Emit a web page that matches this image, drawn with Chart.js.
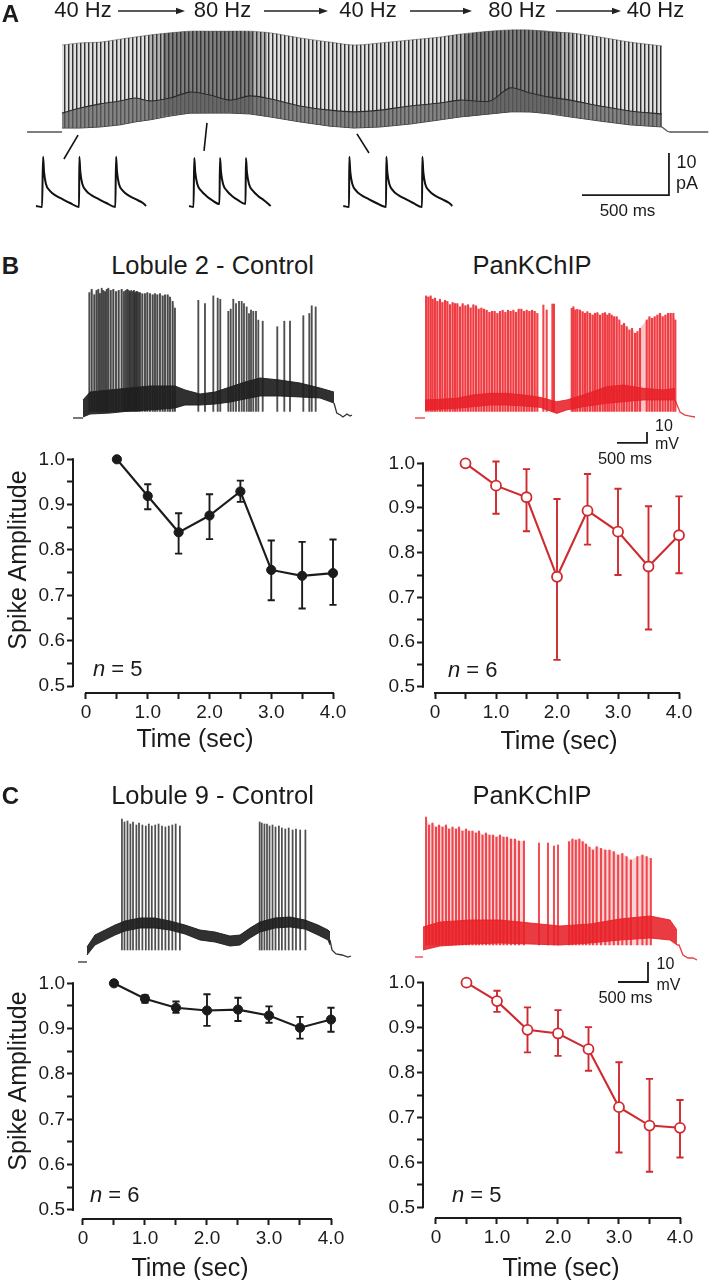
<!DOCTYPE html>
<html>
<head>
<meta charset="utf-8">
<title>Spike amplitude during frequency-modulated input</title>
<script src="https://cdn.jsdelivr.net/npm/chart.js@4.4.1/dist/chart.umd.min.js"></script>
<style>
html,body{margin:0;padding:0;background:#fff;}
body{position:relative;width:709px;height:1280px;overflow:hidden;font-family:"Liberation Sans",Arial,Helvetica,sans-serif;color:#1b1b1b;}
canvas{position:absolute;}
.t{position:absolute;white-space:nowrap;line-height:1;transform:translate(-50%,-50%);}
.l{position:absolute;white-space:nowrap;line-height:1;transform:translate(0,-50%);}
.b{font-weight:bold;}
.r{transform:translate(-50%,-50%) rotate(-90deg);}
</style>
</head>
<body>
<canvas id="traceA" width="709" height="175" style="left:0;top:25px"></canvas>
<canvas id="insetA" width="709" height="100" style="left:0;top:118px"></canvas>
<canvas id="traceB2c" width="330" height="145" style="left:40px;top:280px"></canvas>
<canvas id="traceB2k" width="319" height="170" style="left:390px;top:280px"></canvas>
<canvas id="plotB2c" width="355" height="290" style="left:0;top:440px"></canvas>
<canvas id="plotB2k" width="354" height="290" style="left:355px;top:440px"></canvas>
<canvas id="traceC9c" width="330" height="165" style="left:40px;top:805px"></canvas>
<canvas id="traceC9k" width="319" height="190" style="left:390px;top:805px"></canvas>
<canvas id="plotC9c" width="355" height="300" style="left:0;top:965px"></canvas>
<canvas id="plotC9k" width="354" height="300" style="left:355px;top:965px"></canvas>

<svg width="709" height="25" style="position:absolute;left:0;top:0">
  <g stroke="#222" stroke-width="1.4">
    <line x1="118" y1="11" x2="178" y2="11"/>
    <line x1="264" y1="11" x2="321" y2="11"/>
    <line x1="410" y1="11" x2="465" y2="11"/>
    <line x1="556" y1="11" x2="614" y2="11"/>
  </g>
  <g fill="#222">
    <polygon points="185,11 176,7.8 176,14.2"/>
    <polygon points="328,11 319,7.8 319,14.2"/>
    <polygon points="472,11 463,7.8 463,14.2"/>
    <polygon points="621,11 612,7.8 612,14.2"/>
  </g>
</svg>

<!-- Panel A text -->
<div class="t b" style="left:10.5px;top:14px;font-size:24px">A</div>
<div class="t" style="left:83px;top:9.5px;font-size:22px">40 Hz</div>
<div class="t" style="left:222.5px;top:9.5px;font-size:22px">80 Hz</div>
<div class="t" style="left:368px;top:9.5px;font-size:22px">40 Hz</div>
<div class="t" style="left:517px;top:9.5px;font-size:22px">80 Hz</div>
<div class="t" style="left:655.5px;top:9.5px;font-size:22px">40 Hz</div>
<div class="t" style="left:686.5px;top:161.5px;font-size:18px">10</div>
<div class="t" style="left:687px;top:183px;font-size:18px">pA</div>
<div class="t" style="left:627.5px;top:209.5px;font-size:17px">500 ms</div>

<!-- Panel B text -->
<div class="t b" style="left:10.5px;top:266px;font-size:24px">B</div>
<div class="t" style="left:212.5px;top:266px;font-size:25.5px">Lobule 2 - Control</div>
<div class="t" style="left:532px;top:266px;font-size:25.5px">PanKChIP</div>
<div class="t" style="left:664px;top:426px;font-size:16px">10</div>
<div class="t" style="left:667px;top:444px;font-size:16px">mV</div>
<div class="t" style="left:625px;top:458px;font-size:16.5px">500 ms</div>
<div class="t r" style="left:17px;top:560px;font-size:25px">Spike Amplitude</div>
<div class="t" style="left:195px;top:738px;font-size:25px">Time (sec)</div>
<div class="t" style="left:559px;top:740px;font-size:25px">Time (sec)</div>
<div class="l" style="left:93px;top:669px;font-size:22px"><i>n</i> = 5</div>
<div class="l" style="left:448px;top:670px;font-size:22px"><i>n</i> = 6</div>

<!-- Panel C text -->
<div class="t b" style="left:10.5px;top:796px;font-size:24px">C</div>
<div class="t" style="left:212.5px;top:796px;font-size:25.5px">Lobule 9 - Control</div>
<div class="t" style="left:532px;top:796px;font-size:25.5px">PanKChIP</div>
<div class="t" style="left:665.5px;top:964px;font-size:16px">10</div>
<div class="t" style="left:668.5px;top:985px;font-size:16px">mV</div>
<div class="t" style="left:625.5px;top:997px;font-size:16.5px">500 ms</div>
<div class="t r" style="left:17px;top:1081px;font-size:25px">Spike Amplitude</div>
<div class="t" style="left:190px;top:1267px;font-size:25px">Time (sec)</div>
<div class="t" style="left:561px;top:1267px;font-size:25px">Time (sec)</div>
<div class="l" style="left:90px;top:1195px;font-size:22px"><i>n</i> = 6</div>
<div class="l" style="left:452px;top:1195px;font-size:22px"><i>n</i> = 5</div>

<script>
// ================= DATA =================
// Summary plots: normalised spike amplitude vs time (s)
const timeSec = [0.5, 1.0, 1.5, 2.0, 2.5, 3.0, 3.5, 4.0];
const xTickVals = [0, 0.5, 1.0, 1.5, 2.0, 2.5, 3.0, 3.5, 4.0];
const yTickVals = [0.5, 0.55, 0.6, 0.65, 0.7, 0.75, 0.8, 0.85, 0.9, 0.95, 1.0];

const lob2Ctl     = [1.0, 0.919, 0.839, 0.876, 0.929, 0.756, 0.743, 0.749];
const lob2CtlHi   = [null, 0.945, 0.881, 0.923, 0.953, 0.821, 0.818, 0.823];
const lob2CtlLo   = [null, 0.890, 0.792, 0.824, 0.906, 0.689, 0.671, 0.679];
const lob2KChIP   = [1.0, 0.950, 0.924, 0.746, 0.894, 0.847, 0.769, 0.839];
const lob2KChIPHi = [null, 1.004, 0.987, 0.920, 0.976, 0.943, 0.904, 0.926];
const lob2KChIPLo = [null, 0.887, 0.848, 0.560, 0.818, 0.750, 0.628, 0.754];
const lob9Ctl     = [1.0, 0.966, 0.946, 0.940, 0.942, 0.929, 0.902, 0.920];
const lob9CtlHi   = [null, 0.974, 0.960, 0.976, 0.968, 0.949, 0.926, 0.946];
const lob9CtlLo   = [null, 0.957, 0.935, 0.906, 0.917, 0.913, 0.878, 0.893];
const lob9KChIP   = [1.0, 0.959, 0.895, 0.887, 0.852, 0.723, 0.682, 0.677];
const lob9KChIPHi = [null, 0.982, 0.945, 0.939, 0.901, 0.823, 0.786, 0.739];
const lob9KChIPLo = [null, 0.935, 0.845, 0.837, 0.804, 0.622, 0.579, 0.611];

// Panel A: injected current train (ms, pA) - envelopes
const aEnvT      = [0,104,219,334,420,506,621,736,851,966,1081,1196,1369,1541,1679,1829,2001,2174,2289,2461,2576,2691,2806,2921,3094,3266,3450];
const aPeakPA    = [20.7,21.2,21.4,22.1,22.6,23.1,23.6,24.0,24.0,24.0,24.0,23.6,22.4,21.4,20.7,21.2,21.9,22.6,23.3,24.0,24.3,24.3,23.8,23.6,22.6,21.4,20.5];
const aTroughPA  = [0.95,0.95,1.2,1.7,2.4,2.9,3.8,4.5,4.5,4.5,4.3,3.6,2.4,1.4,0.95,1.2,1.9,2.9,3.6,4.3,4.8,4.8,4.3,3.6,2.6,1.7,1.2];
const aMidPA     = [4.5,5.7,6.7,7.4,8.1,7.4,8.1,9.5,8.8,7.6,8.6,7.9,6.2,5.2,4.8,5.2,6.2,6.9,7.6,7.4,10.5,9.3,8.3,7.6,6.2,5.0,4.3];
// 80 Hz epochs (dense, dark part of the train)
const a80aT      = [500, 581, 700, 850, 1000, 1098, 1180];
const a80aTop    = [23.1, 23.4, 23.9, 24.0, 24.0, 23.9, 23.7];
const a80aBot    = [2.9, 3.9, 4.4, 4.5, 4.5, 4.3, 3.7];
const a80bT      = [2230, 2311, 2450, 2600, 2750, 2869, 2950];
const a80bTop    = [23.0, 23.3, 24.0, 24.3, 24.2, 23.8, 23.4];
const a80bBot    = [3.2, 3.6, 4.2, 4.8, 4.6, 4.3, 3.5];
const aPreT = [-201, 0],               aPrePA = [0, 0];
const aPostT = [3450, 3479, 3496, 3716], aPostPA = [1.2, 0.24, 0, 0];

// Panel A insets: expanded single events (ms, pA)
const inset1T  = [0,4.2,4.9,5.6,6.9,9.7,13.2,18.1,23.6,29.9,30.1,30.8,32.2,34.9,38.4,43.3,48.8,55.1,55.6,56.3,57.6,60.4,63.9,68.8,74.3,76.4];
const inset1PA = [0.24,0,11.8,8.2,5.4,3.8,2.8,1.9,0.94,0,11.8,8.2,5.4,3.8,2.8,1.9,0.94,0,11.8,8.2,5.4,3.8,2.8,1.9,0.94,0.24];
const inset2T  = [106.3,109.4,109.9,110.6,112.0,114.8,118.3,122.2,127.4,127.8,128.5,129.9,132.6,136.1,140.3,145.5,145.8,146.5,147.9,150.7,154.2,158.3,163.0];
const inset2PA = [0.24,0,11.5,8.2,5.4,3.8,2.6,1.6,0.7,11.5,8.2,5.4,3.8,2.6,1.6,0.7,11.5,8.2,5.4,3.8,2.6,1.6,0.24];
const inset3T  = [213.4,217.4,217.6,218.3,219.7,222.4,225.9,230.8,236.3,243.1,243.3,244.0,245.4,248.1,251.6,256.5,262.0,268.1,268.3,269.0,270.3,273.1,276.6,281.5,287.0,289.1];
const inset3PA = [0.24,0,11.8,8.2,5.4,3.8,2.8,1.9,0.94,0,11.8,8.2,5.4,3.8,2.8,1.9,0.94,0,11.8,8.2,5.4,3.8,2.8,1.9,0.94,0.24];

// Panel B, Lobule 2 control trace (ms, mV above rest)
const b2cBandT  = [0,117,450,783,1117,1533,1700,1950,2200,2450,2700,2950,3283,3617,3950,4183];
const b2cBandHi = [16.4,23.6,25.5,27.3,29.1,29.1,25.5,21.8,23.6,28.2,32.7,36.4,34.5,31.8,27.3,23.6];
const b2cBandLo = [0.9,3.6,4.5,6.4,7.3,9.1,11.8,11.8,12.7,14.5,17.3,20,20,19.1,18.2,13.6];
const b2cSpikeT = [105,145,188,225,255,283,312,338,367,395,422,462,505,550,595,645,683,713,738,762,783,805,828,850,867,888,905,928,950,988,1033,1072,1117,1162,1200,1238,1283,1328,1367,1412,1450,1495,1533,
                   1922,2033,2172,2245,2288,2422,2462,2505,2550,2600,2645,2683,2728,2767,2800,2838,2883,2922,2995,3238,3355,3450,3672,3772,3812,3878];
const b2cSpikeV = [114,117,112,116,117,113,118,116,115,117,118,116,117,115,116,117,115,116,117,116,115,116,115,116,114,115,115,114,114,113,113,114,113,112,113,112,113,111,112,112,110,106,100,
                   107,104,111,109,108,97,99,108,104,106,106,104,101,95,98,97,97,89,88,83,88,88,93,95,102,101];
const b2cDense = [[0, 43]];
const b2cPreT = [-167, 0], b2cPreV = [0, 0];
const b2cPostT = [4183,4230,4290,4333,4400,4450,4483], b2cPostV = [13.6,4.5,2.7,0.9,3.6,1.8,2.7];

// Panel B, Lobule 2 PanKChIP trace
const b2kBandT  = [0,250,528,805,1083,1362,1638,1917,2195,2362,2638,3028,3305,3638,3972,4167];
const b2kBandHi = [16.4,17,18,21,22.4,22.4,21,18.8,14.8,16.4,21,28.5,30,27,25.5,27];
const b2kBandLo = [7.3,8,8.8,10.3,11.8,11.8,10.9,9.7,4.2,7.3,10.3,13.3,14.8,16.4,16.4,16.4];
const b2kSpikeT = [17,56,95,128,167,206,250,289,334,373,417,461,500,539,584,628,673,717,761,806,850,895,939,984,1028,1073,1117,1161,1206,1250,1295,1339,1384,1428,1473,1517,1562,1606,1650,1695,1739,1784,1828,1873,
                   1973,2028,2123,2150,
                   2445,2473,2506,2539,2584,2628,2667,2706,2751,2795,2834,2873,2917,2962,3001,3040,3073,3112,3151,3195,3240,
                   3278,3317,3362,3406,3451,3501,3539,3584,3695,3740,3784,3828,3873,3917,3962,4006,4051,4095,4140,4173];
const b2kSpikeV = [111,110,111,108,109,106,108,105,107,106,103,105,104,104,101,104,102,103,100,103,102,99,100,99,98,96,97,97,95,97,98,96,98,97,98,96,99,99,97,98,97,98,97,95,
                   102.7,98.2,103.6,103.6,
                   99.7,101.2,98.2,98.8,98.2,96.7,95.2,96.7,95.2,93.6,95.2,95.8,93.6,95.2,95.8,93.6,95.2,93.6,92.1,92.1,89.1,
                   84.5,86.1,83.0,80.0,81.5,77.0,78.5,81.5,89.1,92.1,90.6,92.1,93.6,95.2,92.1,93.6,95.2,95.2,95.2,89.1];
const b2kDense = [[0, 44], [48, 69], [69, 89]];
const b2kPreT = [-167, 0], b2kPreV = [0, 0];
const b2kPostT = [4167,4250,4333,4417,4500], b2kPostV = [16.4,5.5,2.7,1.8,0.9];

// Panel C, Lobule 9 control trace
const c9cBandT  = [0,133,300,467,633,883,1133,1383,1633,1883,2133,2383,2550,2717,2883,3133,3383,3633,3850,4017,4050];
const c9cBandHi = [7.5,13.5,16,18.5,20.5,22,22,20.5,18.5,16,15,13,13.5,17,20,22,22.5,21,18.5,16,15];
const c9cBandLo = [3.5,8.5,11,13.5,15.5,17,17,16,14,11,10,8,8.5,12,15,17,17.5,16.5,13.5,11,8.5];
const c9cSpikeT = [582,625,675,723,767,823,867,923,980,1030,1080,1137,1193,1250,1307,1363,1422,1478,1548,
                   2878,2913,2957,3000,3042,3092,3142,3198,3248,3305,3362,3427,3483,3553,3640];
const c9cSpikeV = [71.5,70,70.5,69,70,68.5,69.5,68.5,68,69,68,68.5,69,68,67.5,68,68.5,69,68,
                   70,69.5,69,69,68,68.5,67.5,68,67,66.5,67,66,66.5,66,66];
const c9cDense = [];
const c9cPreT = [-150, 0], c9cPreV = [0, 0];
const c9cPostT = [4050,4083,4150,4250,4350,4400], c9cPostV = [11,6,4,3.5,2.5,3];

// Panel C, Lobule 9 PanKChIP trace
const c9kBandT  = [0,283,783,1283,1783,2283,2783,3283,3783,4117,4233];
const c9kBandHi = [15,17.5,18.5,18.5,17,15.5,16.5,19,20.5,18.5,13.5];
const c9kBandLo = [3.5,5.5,6.5,7,6.5,6,7,8.5,9.5,8.5,6];
const c9kSpikeT = [50,100,158,217,267,325,383,433,492,550,600,658,717,767,825,883,933,992,1050,1108,1167,1225,1283,1342,1400,1467,1533,1600,1683,
                   1933,2083,2183,2250,
                   2433,2490,2547,2605,2662,2717,2775,2833,
                   2895,2967,3038,3108,3180,3252,3322,3393,3465,3572,3657,3728,3798];
const c9kSpikeV = [70,66,67,65,66,65,66,64,65,64,65,63,64,63,63,62,63,61,62,61,61,60,61,60,60,59,59,58,58,
                   57,57,55.5,56,
                   57.7,59,58.5,59,57.7,56.5,55,53.5,
                   55.2,54.3,53.5,53.5,52.7,51,51.8,50.2,48.5,50.2,51,50.2,49.3];
const c9kDense = [[0, 29], [33, 54]];
const c9kPreT = [-133, 0], c9kPreV = [0, 0];
const c9kPostT = [4233,4267,4333,4417,4500,4567], c9kPostV = [6,6,1,-0.5,-0.5,-1.5];

// ================= LAYOUT / STYLE =================
const FONT = "'Liberation Sans', Arial, Helvetica, sans-serif";
Chart.defaults.font.family = FONT;
Chart.defaults.animation = false;

const INK = '#1b1b1b';
const RED = '#cf2a2f';
const TRACE_BLACK = 'rgba(30,30,30,0.92)';
const TRACE_RED = 'rgba(232,32,40,0.88)';

const geoPlot = {
  b2c: { padTop: 19.3, padRight: 22, yAxisW: 73, xAxisH: 37, xMin: -0.2105, yMin: 0.4846 },
  b2k: { padTop: 23.3, padRight: 30, yAxisW: 68, xAxisH: 37, xMin: -0.197,  yMin: 0.4859 },
  c9c: { padTop: 18.3, padRight: 24, yAxisW: 73, xAxisH: 46, xMin: -0.161,  yMin: 0.4801 },
  c9k: { padTop: 17.7, padRight: 29, yAxisW: 68, xAxisH: 47, xMin: -0.213,  yMin: 0.4762 }
};
const geoTrace = {
  a:   { xMin: -356.5, xMax: 3720.25, yMin: -16.18, yMax: 25.47 },
  ins: { xMin: -25,    xMax: 467.4,   yMin: -2.59,  yMax: 20.94 },
  b2c: { xMin: -716.7, xMax: 4783.3,  yMin: -6.36,  yMax: 125.45 },
  b2k: { xMin: -583.3, xMax: 4733.3,  yMin: -29.09, yMax: 125.45 },
  c9c: { xMin: -783.3, xMax: 4716.7,  yMin: -4,     yMax: 78.5 },
  c9k: { xMin: -550,   xMax: 4766.7,  yMin: -19,    yMax: 76 }
};
const scaleBars = {
  a:   { t0: 2990, v0: -15,   dt: 500, dv: 10 },
  b2k: { t0: 3200, v0: -22.7, dt: 500, dv: 10 },
  c9k: { t0: 3250, v0: -12.5, dt: 500, dv: 10 }
};
// connector strokes from the train to the insets (inset units)
const connectors = [
  [[29.2, 16.9], [19.4, 11.3]],
  [[118.75, 19.8], [116.7, 13.2]],
  [[222.9, 17.2], [231.25, 12.7]]
];

// ================= HELPERS =================
function pts(xs, ys) { return xs.map((x, i) => ({ x: x, y: ys[i] })); }

function barPts(xs, ys, base) { return xs.map((x, i) => ({ x: x, y: [base, ys[i]] })); }

function scaleBarData(sb) {
  return [{ x: sb.t0, y: sb.v0 }, { x: sb.t0 + sb.dt, y: sb.v0 }, { x: sb.t0 + sb.dt, y: sb.v0 + sb.dv }];
}

function stripePattern() {
  const c = document.createElement('canvas');
  c.width = 4; c.height = 4;
  const g = c.getContext('2d');
  g.fillStyle = 'rgba(150,150,150,0.30)'; g.fillRect(0, 0, 4, 4);
  g.fillStyle = 'rgba(40,40,40,0.95)';    g.fillRect(0, 0, 1, 4);
  g.fillStyle = 'rgba(60,60,60,0.45)';    g.fillRect(1, 0, 1, 4);
  return g.createPattern(c, 'repeat');
}

function baseTraceOptions(geo) {
  return {
    responsive: false, animation: false, events: [],
    layout: { padding: 0 },
    plugins: { legend: { display: false }, tooltip: { enabled: false } },
    elements: { point: { radius: 0 }, line: { tension: 0 } },
    scales: {
      x: { type: 'linear', display: false, offset: false, min: geo.xMin, max: geo.xMax },
      y: { type: 'linear', display: false, offset: false, min: geo.yMin, max: geo.yMax }
    }
  };
}

function traceChart(id, geo, tr, st, sb) {
  const ds = [
    { type: 'bar', data: barPts(tr.spikeT, tr.spikeV, 6), backgroundColor: st.spike, borderWidth: 0,
      barThickness: st.spikeW, grouped: false, order: 6 },
    { data: pts(tr.bandT, tr.bandLo), borderColor: st.band, borderWidth: 1, fill: false, order: 5 },
    { data: pts(tr.bandT, tr.bandHi), borderColor: st.band, borderWidth: 1, backgroundColor: st.band, fill: '-1', order: 4 },
    { data: pts(tr.preT, tr.preV), borderColor: st.band, borderWidth: 1.3, fill: false, order: 1 },
    { data: pts(tr.postT, tr.postV), borderColor: st.band, borderWidth: 1.3, fill: false, order: 1 }
  ];
  // shading between closely spaced spikes, built from the spike list itself
  tr.dense.forEach(r => {
    ds.push({ data: pts(tr.spikeT.slice(r[0], r[1]), tr.spikeV.slice(r[0], r[1])), borderWidth: 0,
              backgroundColor: st.dense, fill: { value: 6 }, order: 8 });
  });
  if (sb) ds.push({ data: scaleBarData(sb), borderColor: INK, borderWidth: 1.8, fill: false, order: 0 });
  return new Chart(document.getElementById(id), { type: 'line', data: { datasets: ds }, options: baseTraceOptions(geo) });
}

const errorBars = {
  id: 'errorBars',
  beforeDatasetsDraw(chart) {
    const ctx = chart.ctx, ys = chart.scales.y;
    chart.data.datasets.forEach((ds, i) => {
      if (!ds.errHi) return;
      const meta = chart.getDatasetMeta(i);
      ctx.save();
      ctx.strokeStyle = ds.borderColor;
      ctx.lineWidth = 1.9;
      const cap = 3.6;
      meta.data.forEach((pt, j) => {
        const hi = ds.errHi[j], lo = ds.errLo[j];
        if (hi == null || lo == null) return;
        const x = pt.x, yh = ys.getPixelForValue(hi), yl = ys.getPixelForValue(lo);
        ctx.beginPath();
        ctx.moveTo(x, yh); ctx.lineTo(x, yl);
        ctx.moveTo(x - cap, yh); ctx.lineTo(x + cap, yh);
        ctx.moveTo(x - cap, yl); ctx.lineTo(x + cap, yl);
        ctx.stroke();
      });
      ctx.restore();
    });
  }
};

const axisLines = {
  id: 'axisLines',
  beforeDatasetsDraw(chart) {
    const ctx = chart.ctx, a = chart.chartArea, x = chart.scales.x, y = chart.scales.y;
    ctx.save();
    ctx.strokeStyle = INK; ctx.lineWidth = 2; ctx.lineCap = 'square';
    ctx.beginPath();
    ctx.moveTo(a.left, y.getPixelForValue(yTickVals[0]));
    ctx.lineTo(a.left, y.getPixelForValue(yTickVals[yTickVals.length - 1]));
    ctx.moveTo(x.getPixelForValue(xTickVals[0]), a.bottom);
    ctx.lineTo(x.getPixelForValue(xTickVals[xTickVals.length - 1]), a.bottom);
    ctx.stroke();
    ctx.restore();
  }
};

function plotChart(id, geo, ys, hi, lo, color, open) {
  const tickFont = { size: 19, family: FONT };
  return new Chart(document.getElementById(id), {
    type: 'line',
    data: { datasets: [{
      data: pts(timeSec, ys), errHi: hi, errLo: lo,
      borderColor: color, borderWidth: 2.1, tension: 0, clip: false,
      pointRadius: open ? 5 : 4.6,
      pointBackgroundColor: open ? '#ffffff' : color,
      pointBorderColor: color, pointBorderWidth: open ? 1.8 : 1
    }] },
    options: {
      responsive: false, animation: false, events: [],
      layout: { padding: { top: geo.padTop, right: geo.padRight, left: 0, bottom: 0 } },
      plugins: { legend: { display: false }, tooltip: { enabled: false } },
      scales: {
        x: {
          type: 'linear', min: geo.xMin, max: 4.0, offset: false,
          afterBuildTicks: s => { s.ticks = xTickVals.map(v => ({ value: v })); },
          afterFit: s => { s.height = geo.xAxisH; },
          border: { display: false },
          grid: { drawOnChartArea: false, drawTicks: true, tickLength: 6, tickWidth: 2, tickColor: INK, color: INK },
          ticks: { autoSkip: false, maxRotation: 0, padding: 2, color: INK, font: tickFont,
            callback: v => (v === 0 ? '0' : (Math.abs(v - Math.round(v)) < 1e-9 ? v.toFixed(1) : '')) }
        },
        y: {
          type: 'linear', min: geo.yMin, max: 1.0,
          afterBuildTicks: s => { s.ticks = yTickVals.map(v => ({ value: v })); },
          afterFit: s => { s.width = geo.yAxisW; },
          border: { display: false },
          grid: { drawOnChartArea: false, drawTicks: true, tickLength: 6, tickWidth: 2, tickColor: INK, color: INK },
          ticks: { autoSkip: false, padding: 2, color: INK, font: tickFont,
            callback: v => (Math.abs(v * 10 - Math.round(v * 10)) < 1e-6 ? v.toFixed(1) : '') }
        }
      }
    },
    plugins: [errorBars, axisLines]
  });
}

// ================= PANEL A =================
(function () {
  const pat = stripePattern();
  const inner = a => a.slice(1, a.length - 1);
  const ds = [
    { data: pts(aEnvT, aTroughPA), borderColor: '#3a3a3a', borderWidth: 1, fill: false, order: 9 },
    { data: pts(aEnvT, aPeakPA), borderColor: 'rgba(60,60,60,0.6)', borderWidth: 0.8, backgroundColor: pat, fill: 0, order: 8, tension: 0.3 },
    { data: pts(aEnvT, aMidPA), borderColor: '#2a2a2a', borderWidth: 1.1, backgroundColor: 'rgba(95,95,95,0.72)', fill: 0, order: 3, tension: 0.3 },
    // 80 Hz epoch 1: soft outer + darker core
    { data: pts(a80aT, a80aBot), borderWidth: 0, fill: false, order: 7 },
    { data: pts(a80aT, a80aTop), borderWidth: 0, backgroundColor: 'rgba(60,60,60,0.28)', fill: '-1', order: 7, tension: 0.3 },
    { data: pts(inner(a80aT), inner(a80aBot)), borderWidth: 0, fill: false, order: 6 },
    { data: pts(inner(a80aT), inner(a80aTop)), borderWidth: 0, backgroundColor: 'rgba(55,55,55,0.42)', fill: '-1', order: 6, tension: 0.3 },
    // 80 Hz epoch 2
    { data: pts(a80bT, a80bBot), borderWidth: 0, fill: false, order: 7 },
    { data: pts(a80bT, a80bTop), borderWidth: 0, backgroundColor: 'rgba(60,60,60,0.28)', fill: '-1', order: 7, tension: 0.3 },
    { data: pts(inner(a80bT), inner(a80bBot)), borderWidth: 0, fill: false, order: 6 },
    { data: pts(inner(a80bT), inner(a80bTop)), borderWidth: 0, backgroundColor: 'rgba(55,55,55,0.42)', fill: '-1', order: 6, tension: 0.3 },
    { data: pts(aPreT, aPrePA), borderColor: '#555', borderWidth: 1.3, fill: false, order: 1 },
    { data: pts(aPostT, aPostPA), borderColor: '#555', borderWidth: 1.3, fill: false, order: 1 },
    { data: scaleBarData(scaleBars.a), borderColor: INK, borderWidth: 1.8, fill: false, order: 0 }
  ];
  new Chart(document.getElementById('traceA'), { type: 'line', data: { datasets: ds }, options: baseTraceOptions(geoTrace.a) });

  const insDs = [
    { data: pts(inset1T, inset1PA), borderColor: '#111', borderWidth: 2, cubicInterpolationMode: 'monotone', fill: false },
    { data: pts(inset2T, inset2PA), borderColor: '#111', borderWidth: 2, cubicInterpolationMode: 'monotone', fill: false },
    { data: pts(inset3T, inset3PA), borderColor: '#111', borderWidth: 2, cubicInterpolationMode: 'monotone', fill: false }
  ];
  connectors.forEach(c => insDs.push({ data: c.map(p => ({ x: p[0], y: p[1] })), borderColor: '#111', borderWidth: 1.6, fill: false }));
  new Chart(document.getElementById('insetA'), { type: 'line', data: { datasets: insDs }, options: baseTraceOptions(geoTrace.ins) });
})();

// ================= TRACES B / C =================
const blackStyle = { band: TRACE_BLACK, spike: 'rgba(35,35,35,0.8)', spikeW: 1.2, dense: 'rgba(110,110,110,0.28)' };
const redStyle   = { band: TRACE_RED,   spike: 'rgba(236,36,44,0.85)', spikeW: 1.4, dense: 'rgba(240,80,86,0.33)' };

traceChart('traceB2c', geoTrace.b2c,
  { spikeT: b2cSpikeT, spikeV: b2cSpikeV, dense: b2cDense, bandT: b2cBandT, bandHi: b2cBandHi, bandLo: b2cBandLo, preT: b2cPreT, preV: b2cPreV, postT: b2cPostT, postV: b2cPostV },
  blackStyle, null);
traceChart('traceB2k', geoTrace.b2k,
  { spikeT: b2kSpikeT, spikeV: b2kSpikeV, dense: b2kDense, bandT: b2kBandT, bandHi: b2kBandHi, bandLo: b2kBandLo, preT: b2kPreT, preV: b2kPreV, postT: b2kPostT, postV: b2kPostV },
  redStyle, scaleBars.b2k);
traceChart('traceC9c', geoTrace.c9c,
  { spikeT: c9cSpikeT, spikeV: c9cSpikeV, dense: c9cDense, bandT: c9cBandT, bandHi: c9cBandHi, bandLo: c9cBandLo, preT: c9cPreT, preV: c9cPreV, postT: c9cPostT, postV: c9cPostV },
  Object.assign({}, blackStyle, { spikeW: 1.1 }), null);
traceChart('traceC9k', geoTrace.c9k,
  { spikeT: c9kSpikeT, spikeV: c9kSpikeV, dense: c9kDense, bandT: c9kBandT, bandHi: c9kBandHi, bandLo: c9kBandLo, preT: c9kPreT, preV: c9kPreV, postT: c9kPostT, postV: c9kPostV },
  Object.assign({}, redStyle, { spike: 'rgba(236,36,44,0.8)', dense: 'rgba(240,80,86,0.25)' }), scaleBars.c9k);

// ================= SUMMARY PLOTS =================
plotChart('plotB2c', geoPlot.b2c, lob2Ctl, lob2CtlHi, lob2CtlLo, INK, false);
plotChart('plotB2k', geoPlot.b2k, lob2KChIP, lob2KChIPHi, lob2KChIPLo, RED, true);
plotChart('plotC9c', geoPlot.c9c, lob9Ctl, lob9CtlHi, lob9CtlLo, INK, false);
plotChart('plotC9k', geoPlot.c9k, lob9KChIP, lob9KChIPHi, lob9KChIPLo, RED, true);
</script>
</body>
</html>
